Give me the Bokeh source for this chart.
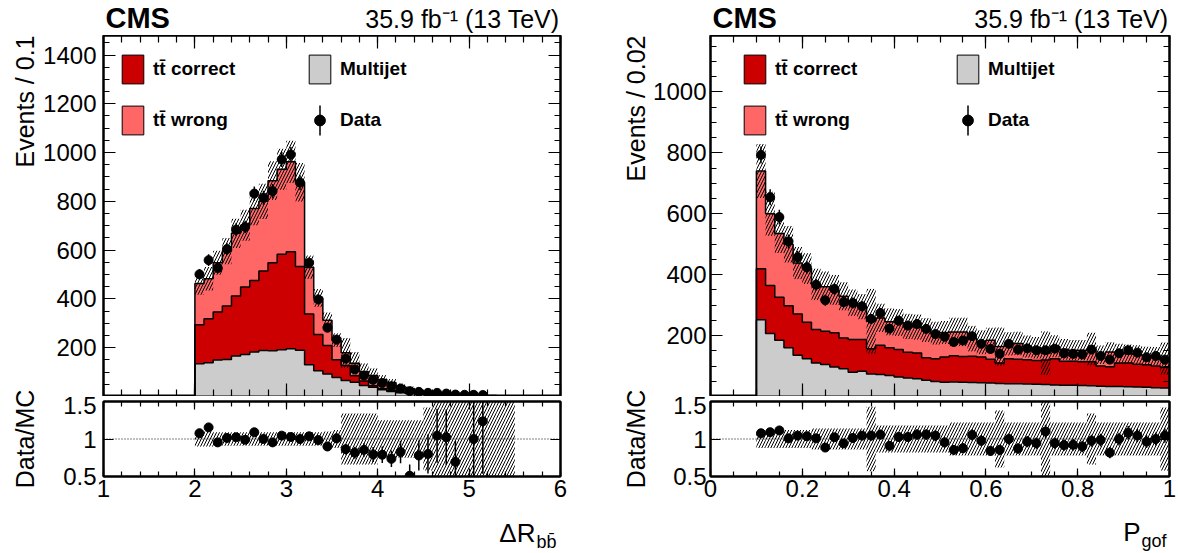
import numpy as np
from bokeh.plotting import figure
from bokeh.models import (ColumnDataSource, Range1d, FixedTicker, LinearAxis, Label,
                          Legend, LegendItem, Arrow, NumeralTickFormatter, Span, CustomJSTickFormatter)
from bokeh.layouts import row, column
from bokeh.embed import file_html
from bokeh.resources import INLINE

nan = float("nan")

# ---------------- left panel: Delta R_bb, bins of 0.1 from 2.0 to 5.5
dr_bin_lo = 2.0
dr_bin_w = 0.1
dr_multijet = [134, 138, 150, 152, 166, 172, 182, 189, 188, 192, 196, 190, 130, 106, 92, 78, 66, 58,
               45, 38, 28, 20, 15, 12, 9, 7, 6, 5, 4, 3, 3, 2, 2, 1, 1]
dr_tt_correct = [160, 181, 196, 219, 246, 277, 294, 326, 360, 391, 397, 343, 208, 148, 117, 73, 61, 27,
                 19, 6, 4, 4, 3, 2, 1, 1, 1, 1, 1, 1, 0, 1, 0, 1, 0]
dr_tt_wrong = [169, 164, 202, 225, 257, 253, 295, 285, 337, 349, 369, 345, 192, 150, 104, 80, 52, 51,
               37, 42, 38, 33, 24, 19, 14, 11, 7, 6, 6, 5, 4, 2, 2, 1, 1]
dr_mc_unc = [0.10, 0.10, 0.09, 0.09, 0.09, 0.09, 0.09, 0.09, 0.09, 0.09, 0.09, 0.09, 0.09, 0.09, 0.10,
             0.12, 0.34, 0.34, 0.34, 0.34, 0.25, 0.25, 0.25, 0.25, 0.25, 0.42, 0.60, 0.60, 0.60, 0.60,
             0.60, 0.60, 0.60, 0.60, 0.60]
dr_data = [501, 559, 527, 604, 684, 695, 832, 815, 842, 972, 992, 877, 548, 398, 282, 233, 155, 111,
           86, 68, 55, 42, 33, 22, 19, 15, 15, 12, 8, 7, 7, 6]
dr_data_err = [22, 24, 23, 25, 26, 26, 29, 29, 29, 31, 31, 30, 23, 20, 17, 15, 12, 11, 9, 8, 7, 6.5,
               5.7, 4.7, 4.4, 3.9, 3.9, 3.5, 2.8, 2.6, 2.6, 2.4]
dr_ratio = [1.077, 1.155, 0.955, 1.014, 1.023, 0.99, 1.09, 1.0, 0.955, 1.045, 1.027, 1.0, 1.036, 0.986,
            0.9, 1.009, 0.864, 0.818, 0.855, 0.795, 0.79, 0.736, 0.827, 0.51, 0.78, 0.8, 1.045, 1.023,
            0.695, nan, 1.0, 1.236]
dr_ratio_err = [0.045, 0.045, 0.045, 0.045, 0.04, 0.04, 0.04, 0.04, 0.04, 0.035, 0.035, 0.035, 0.045,
                0.05, 0.055, 0.065, 0.07, 0.08, 0.09, 0.1, 0.11, 0.11, 0.15, 0.15, 0.2, 0.26, 0.36, 0.37,
                0.28, nan, 0.7, 0.7]

# ---------------- right panel: P_gof, bins of 0.02 from 0.1 to 1.0
pg_bin_lo = 0.1
pg_bin_w = 0.02
pg_multijet = [252, 207, 185, 160, 135, 124, 110, 105, 97, 91, 80, 83, 74, 72, 69, 64, 61, 58, 53, 49,
               47, 48, 47, 46, 45, 44, 43, 42, 42, 41, 40, 39, 38, 37, 37, 36, 35, 34, 33, 33, 32, 31,
               30, 29, 28]
pg_tt_correct = [167, 157, 141, 138, 136, 120, 110, 109, 112, 101, 107, 104, 83, 96, 91, 90, 84, 85, 74,
                 75, 83, 86, 84, 86, 85, 78, 67, 82, 80, 80, 78, 81, 86, 79, 79, 78, 79, 66, 65, 77, 78,
                 75, 74, 71, 68]
pg_tt_wrong = [321, 236, 209, 202, 167, 176, 148, 146, 141, 137, 121, 108, 90, 90, 85, 89, 85, 85, 91,
               84, 80, 78, 81, 58, 48, 63, 54, 49, 52, 43, 42, 22, 41, 39, 36, 38, 42, 37, 48, 32, 30,
               32, 30, 33, 29]
pg_mc_unc = [0.12, 0.12, 0.12, 0.12, 0.12, 0.12, 0.14, 0.14, 0.14, 0.14, 0.14, 0.14, 0.43, 0.18, 0.18,
             0.18, 0.18, 0.18, 0.18, 0.18, 0.18, 0.22, 0.22, 0.22, 0.22, 0.22, 0.38, 0.22, 0.22, 0.22,
             0.22, 0.50, 0.22, 0.22, 0.22, 0.22, 0.34, 0.22, 0.22, 0.22, 0.22, 0.22, 0.22, 0.22, 0.42]
pg_data = [793, 654, 589, 509, 457, 424, 367, 316, 353, 310, 307, 296, 255, 274, 223, 249, 233, 238,
           222, 205, 196, 179, 184, 198, 173, 156, 140, 173, 154, 158, 152, 152, 157, 142, 140, 138,
           154, 133, 121, 142, 152, 144, 129, 133, 121]
pg_data_err = [28, 26, 24, 23, 21, 21, 19, 18, 19, 18, 18, 17, 16, 17, 15, 16, 15, 15, 15, 14, 14, 13,
               14, 14, 13, 12.5, 12, 13, 12.4, 12.6, 12.3, 12.3, 12.5, 11.9, 11.8, 11.7, 12.4, 11.5,
               11, 11.9, 12.3, 12, 11.4, 11.5, 11]
pg_ratio = [1.077, 1.091, 1.114, 1.009, 1.045, 1.036, 1.009, 0.886, 1.023, 0.941, 1.014, 1.045, 1.045,
            1.059, 0.909, 1.027, 1.027, 1.059, 1.059, 1.045, 0.955, 0.855, 0.877, 1.055, 0.977, 0.841,
            0.855, 1.0, 0.873, 0.964, 0.945, 1.1, 0.945, 0.918, 0.923, 0.9, 0.977, 0.986, 0.818, 1.0,
            1.082, 1.045, 0.964, 1.0, 1.045]
pg_ratio_err = [0.04, 0.04, 0.045, 0.045, 0.05, 0.05, 0.055, 0.05, 0.055, 0.055, 0.06, 0.06, 0.065,
                0.065, 0.06, 0.065, 0.065, 0.07, 0.07, 0.075, 0.07, 0.065, 0.065, 0.075, 0.075, 0.065,
                0.07, 0.075, 0.07, 0.075, 0.075, 0.09, 0.075, 0.077, 0.078, 0.077, 0.08, 0.085, 0.075,
                0.085, 0.09, 0.087, 0.085, 0.087, 0.095]

legend_labels = ["t\u0074\u0304 correct", "t\u0074\u0304 wrong", "Multijet", "Data"]

# ---------------- style / geometry
FONT = "Liberation Sans"
C_CORRECT = "#cc0000"
C_WRONG = "#ff6666"
C_MJ = "#cccccc"
TOTAL_H = 552
HEAD_H = 35
FH_MAIN = 361
MAIN_BOT = 0
RATIO_TOP = 5
FH_RATIO = 75
RATIO_BOT = 34
FOOT_H = TOTAL_H - HEAD_H - (FH_MAIN + MAIN_BOT) - (RATIO_TOP + FH_RATIO + RATIO_BOT)
LEG_DY = 16
MID = 0.36   # distance from text middle to its baseline, in em


def make_axis(ticks, minor, major_len, minor_len, labels, standoff=6):
    ax = LinearAxis()
    ax.ticker = FixedTicker(ticks=list(ticks), minor_ticks=list(minor))
    ax.major_tick_in = major_len
    ax.major_tick_out = 0
    ax.minor_tick_in = minor_len
    ax.minor_tick_out = 0
    ax.major_tick_line_width = 1.2
    ax.minor_tick_line_width = 1.2
    ax.major_tick_line_color = "black"
    ax.minor_tick_line_color = "black"
    ax.axis_line_width = 2
    ax.axis_line_color = "black"
    if labels:
        ax.major_label_text_font = FONT
        ax.major_label_text_font_size = "24px"
        ax.major_label_text_color = "black"
        ax.major_label_standoff = standoff
        ax.formatter = NumeralTickFormatter(format="0.[0]")
    else:
        ax.formatter = CustomJSTickFormatter(code="return ''")
        ax.major_label_text_font_size = "0px"
        ax.major_label_standoff = 0
    return ax


def text_label(fig, x, y, text, size_px, **kw):
    fig.add_layout(Label(x=x, y=y, x_units="screen", y_units="screen", text=text,
                         text_font=FONT, text_font_size=f"{size_px}px", text_color="black",
                         text_baseline="middle", **kw))


def blank(w, h, bl=0, br=0):
    f = figure(frame_width=w, frame_height=h, x_range=Range1d(0, 1), y_range=Range1d(0, 1),
               output_backend="svg", toolbar_location=None, x_axis_location=None,
               y_axis_location=None, title_location=None, min_border=0, min_border_left=bl,
               min_border_right=br, min_border_top=0, min_border_bottom=0, outline_line_color=None,
               background_fill_color="white", border_fill_color="white")
    f.grid.visible = False
    return f


def stack_fill(fig, edges, bottom, top, color):
    fig.varea_step(x=edges, y1=np.append(bottom, bottom[-1]), y2=np.append(top, top[-1]),
                   step_mode="after", fill_color=color)


def build(cfg):
    n = len(cfg["multijet"])
    edges = np.round(cfg["bin_lo"] + cfg["bin_w"] * np.arange(n + 1), 6)
    mj = np.array(cfg["multijet"], float)
    top2 = mj + np.array(cfg["tt_correct"], float)
    top3 = top2 + np.array(cfg["tt_wrong"], float)
    unc = np.array(cfg["mc_unc"], float)
    src = ColumnDataSource(dict(left=edges[:-1], right=edges[1:], zero=np.zeros(n), mj=mj, cor=top2,
                                tot=top3, lo=top3 * (1 - unc), hi=top3 * (1 + unc),
                                rlo=1 - unc, rhi=1 + unc))
    nd = len(cfg["data"])
    xc = ((edges[:-1] + edges[1:]) / 2)[:nd]
    d = np.array(cfg["data"], float)
    de = np.array(cfg["data_err"], float)
    r = np.array(cfg["ratio"], float)
    re = np.array(cfg["ratio_err"], float)
    dsrc = ColumnDataSource(dict(x=xc, y=d, ylo=d - de, yhi=d + de, r=r, rlo=r - re, rhi=r + re))

    fw, bl, br = cfg["fw"], cfg["bl"], cfg["br"]

    # ---------- header (CMS / luminosity), frame aligned with the plot frame
    head = blank(fw, HEAD_H, bl, br)
    text_label(head, 2, 7 + MID * 29, "CMS", 29, text_font_style="bold")
    text_label(head, fw - 1, 8 + MID * 25, "35.9 fb\u207b\u00b9 (13 TeV)", 25, text_align="right")

    # ---------- main panel
    p = figure(frame_width=fw, frame_height=FH_MAIN, x_range=Range1d(*cfg["xr"]),
               y_range=Range1d(0, cfg["ymax"]), output_backend="svg", toolbar_location=None,
               x_axis_location=None, y_axis_location=None, title_location=None,
               min_border_left=bl, min_border_right=br, min_border_top=0,
               min_border_bottom=MAIN_BOT, background_fill_color="white", border_fill_color="white",
               outline_line_color="black", outline_line_width=2)
    p.grid.visible = False
    p.add_layout(make_axis(cfg["xt"], cfg["xm"], 13, 7, False), "below")
    p.add_layout(make_axis(cfg["xt"], cfg["xm"], 13, 7, False), "above")
    p.add_layout(make_axis(cfg["yt"], cfg["ym"], 12, 6, True, standoff=cfg["ylab_so"]), "left")
    p.add_layout(make_axis(cfg["yt"], cfg["ym"], 12, 6, False), "right")

    stack_fill(p, edges, np.zeros(n), mj, C_MJ)
    stack_fill(p, edges, mj, top2, C_CORRECT)
    stack_fill(p, edges, top2, top3, C_WRONG)
    for top in (mj, top2, top3):
        xs = np.concatenate([[edges[0]], edges, [edges[-1]]])
        ys = np.concatenate([[0.0], top, [top[-1], 0.0]])
        p.step(xs, ys, mode="after", line_color="black", line_width=1.5)
    p.quad(left="left", right="right", bottom="lo", top="hi", source=src, fill_color=None,
           line_color=None, hatch_pattern="/", hatch_color="black", hatch_scale=6, hatch_weight=1)
    p.segment(x0="x", y0="ylo", x1="x", y1="yhi", source=dsrc, line_color="black", line_width=1.5)
    rd = p.scatter("x", "y", source=dsrc, size=9, marker="circle", fill_color="black", line_color="black")

    # legend-only renderers (hidden in the plot)
    lc = p.quad(left="left", right="right", bottom="mj", top="cor", source=src, fill_color=C_CORRECT,
                line_color="black", line_width=1, visible=False)
    lw = p.quad(left="left", right="right", bottom="cor", top="tot", source=src, fill_color=C_WRONG,
                line_color="black", line_width=1, visible=False)
    lm = p.quad(left="left", right="right", bottom="zero", top="mj", source=src, fill_color=C_MJ,
                line_color="black", line_width=1, visible=False)
    leg = Legend(items=[LegendItem(label=legend_labels[0], renderers=[lc]),
                        LegendItem(label=legend_labels[1], renderers=[lw]),
                        LegendItem(label=legend_labels[2], renderers=[lm]),
                        LegendItem(label=legend_labels[3], renderers=[rd])],
                 location=(cfg["leg_dx"], FH_MAIN - LEG_DY - 87), orientation="vertical", nrows=2,
                 glyph_width=27, glyph_height=36, label_standoff=7, label_width=cfg["leg_lw"],
                 label_height=36, spacing=15, padding=0, margin=0, border_line_color=None,
                 background_fill_alpha=0, label_text_font=FONT, label_text_font_style="bold",
                 label_text_font_size="19px", label_text_color="black")
    p.add_layout(leg)
    xcol2 = cfg["leg_dx"] + 27 + 7 + cfg["leg_lw"] + 15 + 13.5
    p.add_layout(Arrow(start=None, end=None, x_start=xcol2, y_start=FH_MAIN - (LEG_DY + 36 + 15 + 3),
                       x_end=xcol2, y_end=FH_MAIN - (LEG_DY + 36 + 15 + 33),
                       start_units="screen", end_units="screen", line_color="black", line_width=1.5))

    # ---------- ratio panel
    q = figure(frame_width=fw, frame_height=FH_RATIO, x_range=Range1d(*cfg["xr"]),
               y_range=Range1d(0.5, 1.5), output_backend="svg", toolbar_location=None,
               x_axis_location=None, y_axis_location=None, title_location=None,
               min_border_left=bl, min_border_right=br, min_border_top=RATIO_TOP,
               min_border_bottom=RATIO_BOT, background_fill_color="white", border_fill_color="white",
               outline_line_color="black", outline_line_width=2)
    q.grid.visible = False
    q.add_layout(make_axis(cfg["xt"], cfg["xm"], 8, 5, True, standoff=3), "below")
    q.add_layout(make_axis(cfg["xt"], cfg["xm"], 8, 5, False), "above")
    q.add_layout(make_axis([0.5, 1.0, 1.5], [], 10, 5, True, standoff=cfg["ylab_so"]), "left")
    q.add_layout(make_axis([0.5, 1.0, 1.5], [], 10, 5, False), "right")
    q.add_layout(Span(location=1, dimension="width", line_color="black", line_width=1,
                      line_dash="1 2", level="underlay"))
    q.quad(left="left", right="right", bottom="rlo", top="rhi", source=src, fill_color=None,
           line_color=None, hatch_pattern="/", hatch_color="black", hatch_scale=6, hatch_weight=1)
    q.segment(x0="x", y0="rlo", x1="x", y1="rhi", source=dsrc, line_color="black", line_width=1.5)
    q.scatter("x", "r", source=dsrc, size=9, marker="circle", fill_color="black", line_color="black")

    # ---------- footer (x-axis title), frame aligned with the plot frame
    foot = blank(fw, FOOT_H, bl, br)
    text_label(foot, cfg["xt_x"], cfg["xt_base"] + MID * 26, cfg["xtitle"], 26, text_align="right")
    text_label(foot, cfg["xt_x"] + 1, cfg["xsub_base"] + MID * 18, cfg["xtitle_sub"], 18,
               text_align="left")

    # ---------- y-axis titles (rotated; baseline faces the axis)
    side = blank(cfg["side_w"], TOTAL_H)
    sx = cfg["side_base"] - MID * 25
    text_label(side, sx, TOTAL_H - HEAD_H, cfg["ytitle"], 25, angle=np.pi / 2, text_align="right")
    ratio_mid = TOTAL_H - (HEAD_H + FH_MAIN + MAIN_BOT + RATIO_TOP + FH_RATIO / 2)
    text_label(side, sx, ratio_mid, "Data/MC", 25, angle=np.pi / 2, text_align="center")
    return row(side, column(head, p, q, foot))


left_cfg = dict(bin_lo=dr_bin_lo, bin_w=dr_bin_w, multijet=dr_multijet, tt_correct=dr_tt_correct,
                tt_wrong=dr_tt_wrong, mc_unc=dr_mc_unc, data=dr_data, data_err=dr_data_err,
                ratio=dr_ratio, ratio_err=dr_ratio_err,
                side_w=40, side_base=33, fw=457, bl=61, br=42, ylab_so=7, xr=(1, 6), ymax=1480,
                xt=[1, 2, 3, 4, 5, 6], xm=np.round(np.arange(1, 6.01, 0.2), 3),
                yt=[200, 400, 600, 800, 1000, 1200, 1400], ym=np.arange(50, 1480, 50),
                leg_dx=16, leg_lw=138, ytitle="Events / 0.1",
                xtitle="\u0394R", xtitle_sub="bb\u0304", xt_x=432, xt_base=10, xsub_base=4)
right_cfg = dict(bin_lo=pg_bin_lo, bin_w=pg_bin_w, multijet=pg_multijet, tt_correct=pg_tt_correct,
                 tt_wrong=pg_tt_wrong, mc_unc=pg_mc_unc, data=pg_data, data_err=pg_data_err,
                 ratio=pg_ratio, ratio_err=pg_ratio_err,
                 side_w=48, side_base=42, fw=459, bl=58, br=13, ylab_so=4, xr=(0, 1), ymax=1185,
                 xt=[0, 0.2, 0.4, 0.6, 0.8, 1.0], xm=np.round(np.arange(0, 1.001, 0.05), 3),
                 yt=[200, 400, 600, 800, 1000], ym=np.arange(50, 1185, 50),
                 leg_dx=31, leg_lw=164, ytitle="Events / 0.02",
                 xtitle="P", xtitle_sub="gof", xt_x=430, xt_base=11, xsub_base=5)

layout = row(build(left_cfg), build(right_cfg))
open("out.html", "w").write(file_html(layout, INLINE))
